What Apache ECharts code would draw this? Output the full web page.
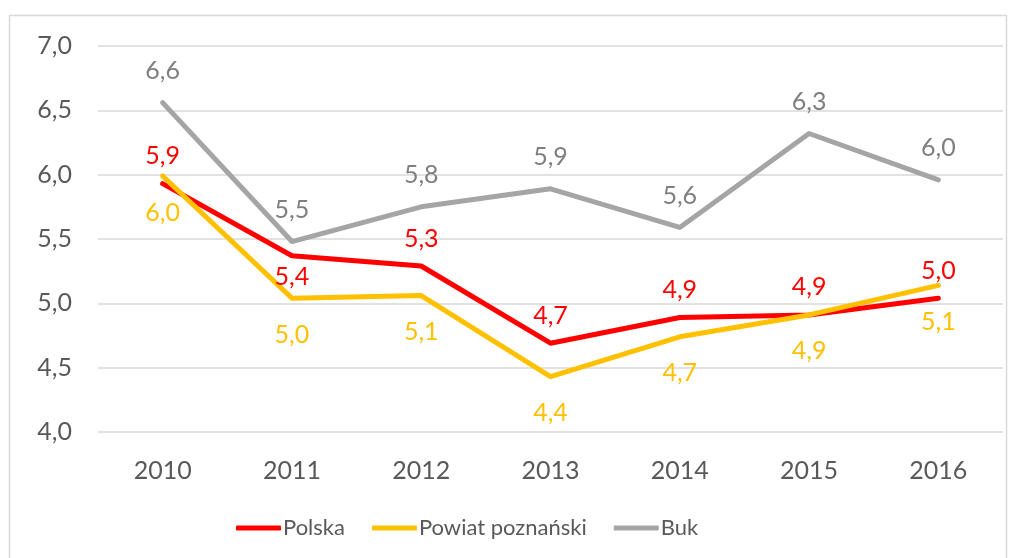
<!DOCTYPE html>
<html>
<head>
<meta charset="utf-8">
<script src="https://cdn.jsdelivr.net/npm/echarts@6/dist/echarts.min.js"></script>
<style>
  html, body { margin: 0; padding: 0; background: #fff; }
  #chart { width: 1016px; height: 558px; }
</style>
</head>
<body>
<div id="chart"></div>
<script>
const years = ['2010', '2011', '2012', '2013', '2014', '2015', '2016']
const polska = [5.93, 5.37, 5.29, 4.69, 4.89, 4.91, 5.04]
const powiat = [5.99, 5.04, 5.06, 4.43, 4.74, 4.91, 5.14]
const buk = [6.56, 5.48, 5.75, 5.89, 5.59, 6.32, 5.96]

const fmt = v => Number(v).toFixed(1).replace('.', ',')
const font = 'Lato'

function lineSeries(name, data, color, labelColor, pos, dist) {
  return {
    name: name,
    type: 'line',
    data: data,
    symbol: 'circle',
    symbolSize: 0,
    lineStyle: { color: color, width: 5, cap: 'round', join: 'round' },
    itemStyle: { color: color },
    label: {
      show: true,
      position: pos,
      distance: dist,
      color: labelColor,
      fontFamily: font,
      fontSize: 25,
      formatter: p => fmt(p.value)
    },
    emphasis: { disabled: true }
  }
}

// Polska 2011 label sits under the line in the original
const polskaData = polska.map((v, i) => i === 1
  ? { value: v, label: { position: 'bottom', distance: 9 } }
  : v)

const chart = echarts.init(document.getElementById('chart'))
chart.setOption({
  animation: false,
  graphic: [{
    type: 'rect',
    shape: { x: 9.5, y: 15.5, width: 997, height: 560 },
    style: { fill: 'none', stroke: '#d9d9d9', lineWidth: 1.5 },
    silent: true
  }],
  grid: { left: 98, right: 13, top: 46, bottom: 126 },
  legend: {
    bottom: 14,
    left: 231,
    itemWidth: 45,
    itemHeight: 5,
    itemGap: 27,
    icon: 'roundRect',
    textStyle: { color: '#595959', fontFamily: font, fontSize: 22, padding: [0, 0, 0, -3] },
    data: ['Polska', 'Powiat poznański', 'Buk']
  },
  xAxis: {
    type: 'category',
    data: years,
    axisLine: { show: false },
    axisTick: { show: false },
    axisLabel: { color: '#595959', fontFamily: font, fontSize: 25, margin: 26 }
  },
  yAxis: {
    type: 'value',
    min: 4,
    max: 7,
    interval: 0.5,
    axisLine: { show: false },
    axisTick: { show: false },
    splitLine: { lineStyle: { color: '#d9d9d9', width: 1.5 } },
    axisLabel: { color: '#595959', fontFamily: font, fontSize: 25, margin: 26, formatter: v => fmt(v) }
  },
  series: [
    lineSeries('Polska', polskaData, '#ff0000', '#ff0000', 'top', 15),
    lineSeries('Powiat poznański', powiat, '#ffc000', '#ffc000', 'bottom', 24),
    lineSeries('Buk', buk, '#a5a5a5', '#7f7f7f', 'top', 19)
  ]
})
</script>
</body>
</html>
